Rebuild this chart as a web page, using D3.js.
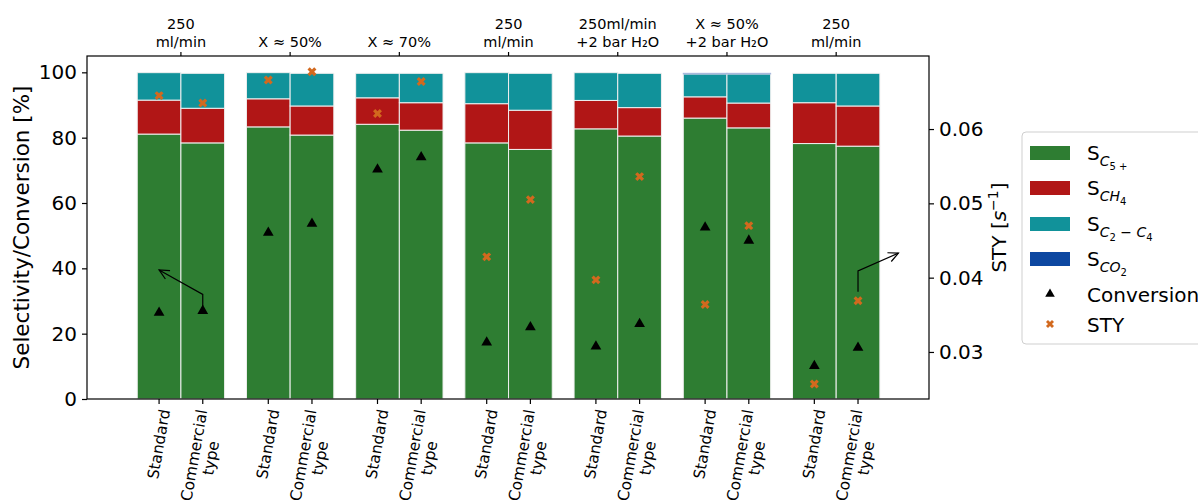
<!DOCTYPE html>
<html><head><meta charset="utf-8">
<script src="https://cdn.jsdelivr.net/npm/d3@7"></script>
<style>body{margin:0;background:#fff;overflow:hidden} text{font-family:"DejaVu Sans",sans-serif;fill:#000}</style>
</head><body><svg id="c" width="1198" height="502"></svg>
<script>
// ---- data ----
const groupLabels = [["250","ml/min"],["X ≈ 50%"],["X ≈ 70%"],["250","ml/min"],["250ml/min","+2 bar H₂O"],["X ≈ 50%","+2 bar H₂O"],["250","ml/min"]];
const catalysts = [["Standard"],["Commercial","type"]];
// bars ordered: group0 Std, group0 Comm, group1 Std, ...
const sC5   = [81.1, 78.4, 83.3, 80.8, 84.1, 82.3, 78.4, 76.4, 82.7, 80.5, 86.0, 83.0, 78.2, 77.4];
const sCH4  = [10.4, 10.6,  8.6,  8.9,  8.1,  8.4, 12.0, 12.0,  8.7,  8.7,  6.5,  7.6, 12.5, 12.3];
const sC2C4 = [ 8.4, 10.7,  8.0, 10.0,  7.5,  9.0,  9.5, 11.3,  8.5, 10.5,  7.0,  8.9,  9.0, 10.0];
const sCO2  = [ 0,    0,    0,    0,    0,    0,    0,    0,    0,    0,    0.2,  0.2,  0,    0  ];
const conversion = [26.4, 27.0, 50.9, 53.7, 70.3, 74.0, 17.3, 22.0, 16.1, 23.0, 52.5, 48.5, 10.1, 15.7];
const sty = [0.0645, 0.0635, 0.0666, 0.0677, 0.0621, 0.0664, 0.0428, 0.0505, 0.0397, 0.0536, 0.0364, 0.0470, 0.0257, 0.0369];
const leftTicks = [0,20,40,60,80,100];
const rightTicks = [0.03,0.04,0.05,0.06];
const seriesNames = ["C5","CH4","C2C4","CO2"];
const colors = {C5:"#2e7d32", CH4:"#b11616", C2C4:"#11929a", CO2:"#0d47a1"};
const markerColor = "#d2691e";

// ---- layout ----
const svg = d3.select("#c");
const L=87, R=929, T=56, B=399;
const x = d3.scaleLinear().domain([-0.86, 6.85]).range([L, R]);
const y = d3.scaleLinear().domain([0, 105]).range([B, T]);
const y2 = d3.scaleLinear().domain([0.02367, 0.06983]).range([B, T]);
const barW = x(0.4) - x(0);

const bars = sC5.map((v,i)=>({i, g:Math.floor(i/2), c:i%2, pos:Math.floor(i/2)+(i%2?0.2:-0.2),
  C5:v, CH4:sCH4[i], C2C4:sC2C4[i], CO2:sCO2[i], conv:conversion[i], sty:sty[i]}));
const stack = d3.stack().keys(seriesNames)(bars);

const plot = svg.append("g");
stack.forEach(layer=>{
  plot.append("g").selectAll("rect").data(layer).join("rect")
    .attr("x", d=>x(d.data.pos)-barW/2)
    .attr("width", barW)
    .attr("y", d=>y(d[1]))
    .attr("height", d=>Math.max(0,y(d[0])-y(d[1])))
    .attr("fill", colors[layer.key])
    .attr("stroke", layer.key==="CO2" ? "#a9b8dc" : "#f0f0f0")
    .attr("stroke-width", d=> (d[1]-d[0])>0 ? 1 : 0);
});

// conversion triangles
const tri = d3.symbol().type(d3.symbolTriangle).size(50);
plot.append("g").selectAll("path").data(bars).join("path")
  .attr("d", tri).attr("transform", d=>`translate(${x(d.pos)},${y(d.conv)})`).attr("fill","#000");
// STY X markers
const xs = d3.symbol().type(d3.symbolCross).size(50);
plot.append("g").selectAll("path").data(bars).join("path")
  .attr("d", xs).attr("transform", d=>`translate(${x(d.pos)},${y2(d.sty)}) rotate(45)`).attr("fill",markerColor);

// arrows
function arrow(pts){
  const p = pts.map(q=>[x(q[0]), q[2]==="r"? y2(q[1]) : y(q[1])]);
  svg.append("path").attr("d", d3.line()(p)).attr("fill","none").attr("stroke","#000").attr("stroke-width",1.2);
  const [a,b] = [p[p.length-2], p[p.length-1]];
  const ang = Math.atan2(b[1]-a[1], b[0]-a[0]);
  const len=11, sp=0.45;
  const h1=[b[0]-len*Math.cos(ang-sp), b[1]-len*Math.sin(ang-sp)];
  const h2=[b[0]-len*Math.cos(ang+sp), b[1]-len*Math.sin(ang+sp)];
  svg.append("path").attr("d", d3.line()([h1,b,h2])).attr("fill","none").attr("stroke","#000").attr("stroke-width",1.2);
}
arrow([[0.2,28.5,"l"],[0.2,32,"l"],[-0.2,39.5,"l"]]);
arrow([[6.2,0.0381,"r"],[6.2,0.0409,"r"],[6.57,0.0433,"r"]]);

// frame
svg.append("rect").attr("x",L).attr("y",T).attr("width",R-L).attr("height",B-T).attr("fill","none").attr("stroke","#000").attr("stroke-width",1.2);

// left axis
const la = svg.append("g").attr("transform",`translate(${L},0)`)
  .call(d3.axisLeft(y).tickValues(leftTicks).tickSize(5).tickPadding(5).tickFormat(d3.format("d")));
la.select(".domain").remove();
la.selectAll("text").attr("font-size",20).attr("font-family","DejaVu Sans");
la.selectAll("line").attr("stroke-width",1.2);
// right axis
const ra = svg.append("g").attr("transform",`translate(${R},0)`)
  .call(d3.axisRight(y2).tickValues(rightTicks).tickSize(5).tickPadding(5).tickFormat(d3.format(".2f")));
ra.select(".domain").remove();
ra.selectAll("text").attr("font-size",20).attr("font-family","DejaVu Sans");
ra.selectAll("line").attr("stroke-width",1.2);

// y labels
svg.append("text").attr("transform",`translate(29,${(T+B)/2}) rotate(-90)`).attr("text-anchor","middle")
  .attr("font-size",21.5).text("Selectivity/Conversion [%]");
const st = svg.append("text").attr("transform",`translate(1006,${(T+B)/2}) rotate(-90)`).attr("text-anchor","middle").attr("font-size",20);
st.append("tspan").text("STY [");
st.append("tspan").attr("font-style","italic").text("s");
st.append("tspan").attr("dy",-8).attr("font-size",14).text("−1");
st.append("tspan").attr("dy",8).text("]");

// top axis (group labels)
const groupIdx = groupLabels.map((d,i)=>i);
svg.append("g").selectAll("line").data(groupIdx).join("line")
  .attr("x1",d=>x(d)).attr("x2",d=>x(d)).attr("y1",T).attr("y2",T-4).attr("stroke","#000").attr("stroke-width",1.2);
groupLabels.forEach((lines,i)=>{
  const t = svg.append("text").attr("text-anchor","middle").attr("font-size",14.5);
  const n = lines.length;
  lines.forEach((s,k)=>{
    t.append("tspan").attr("x",x(i)).attr("y", T-9 - (n-1-k)*18).text(s);
  });
});

// bottom axis (catalyst labels, rotated)
svg.append("g").selectAll("line").data(bars).join("line")
  .attr("x1",d=>x(d.pos)).attr("x2",d=>x(d.pos)).attr("y1",B).attr("y2",B+5).attr("stroke","#000").attr("stroke-width",1.2);
bars.forEach(d=>{
  const lines = catalysts[d.c];
  const g = svg.append("g");
  const inner = g.append("g").attr("transform","rotate(-80)");
  const t = inner.append("text").attr("text-anchor","middle").attr("font-size",15.5).attr("font-family","DejaVu Sans");
  lines.forEach((s,k)=>t.append("tspan").attr("x",0).attr("y",k*17).text(s));
  const bb = g.node().getBBox();
  const cx = bb.x + bb.width/2;
  g.attr("transform",`translate(${x(d.pos)-cx},${B+9-bb.y})`);
});

// legend
const lg = svg.append("g").attr("transform","translate(1022,132)");
lg.append("rect").attr("x",0).attr("y",0).attr("width",200).attr("height",212).attr("rx",4)
  .attr("fill","#fff").attr("stroke","#cfcfcf").attr("stroke-width",1);
const legItems = [
  {k:"C5",   sub:[["C",1],["5 +",2]]},
  {k:"CH4",  sub:[["CH",1],["4",2]]},
  {k:"C2C4", sub:[["C",1],["2",2],[" − ",1],["C",1],["4",2]]},
  {k:"CO2",  sub:[["CO",1],["2",2]]}
];
const rowY = [21, 56, 92, 127];
legItems.forEach((it,i)=>{
  lg.append("rect").attr("x",8).attr("y",rowY[i]-7).attr("width",40).attr("height",14).attr("fill",colors[it.k]);
  const t = lg.append("text").attr("x",65).attr("y",rowY[i]+7).attr("font-size",20);
  t.append("tspan").text("S");
  let level = 0;
  it.sub.forEach(([s,lv],j)=>{
    const off = {0:0,1:6,2:10};
    const dy = off[lv]-off[level];
    level = lv;
    t.append("tspan").attr("font-size", lv===1?14:10).attr("font-style", /[A-Z]/.test(s)?"italic":"normal")
      .attr("dy", dy).text(s);
  });
});
// marker legend
lg.append("path").attr("d",d3.symbol().type(d3.symbolTriangle).size(40)).attr("transform","translate(28,162)").attr("fill","#000");
lg.append("text").attr("x",65).attr("y",170).attr("font-size",20).text("Conversion");
lg.append("path").attr("d",d3.symbol().type(d3.symbolCross).size(40)).attr("transform","translate(28,192) rotate(45)").attr("fill",markerColor);
lg.append("text").attr("x",65).attr("y",200).attr("font-size",20).text("STY");
</script></body></html>
